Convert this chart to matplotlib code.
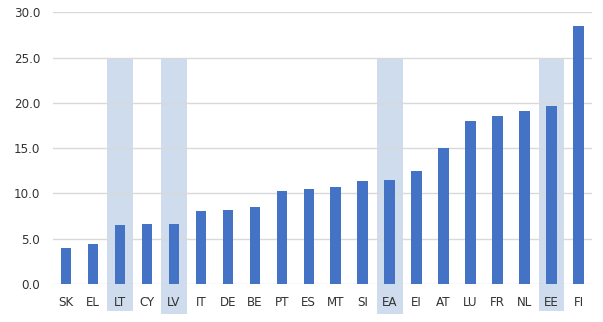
import matplotlib
matplotlib.use("Agg")
import matplotlib.pyplot as plt
import numpy as np

countries = ['SK', 'EL', 'LT', 'CY', 'LV', 'IT', 'DE', 'BE', 'PT', 'ES',
             'MT', 'SI', 'EA', 'EI', 'AT', 'LU', 'FR', 'NL', 'EE', 'FI']
values = [4.0, 4.4, 6.5, 6.6, 6.6, 8.1, 8.2, 8.5, 10.3, 10.5,
          10.7, 11.4, 11.5, 12.5, 15.0, 18.0, 18.6, 19.1, 19.7, 28.5]

# highlighted countries: (label, top, bottom)
highlight = ['LT', 'LV', 'EA', 'EE']
highlight_top = [25.0, 24.8, 24.8, 25.0]
highlight_bottom = [-3.0, -3.3, -3.3, -3.0]

bar_color = '#4472C4'
hl_color = '#CFDCEE'
text_color = '#333333'

fig = plt.figure(figsize=(6.03, 3.22), dpi=100)
ax = fig.add_axes([52.5 / 603, (322 - 284) / 322, (592 - 52.5) / 603, (284 - 12.3) / 322])

x = np.arange(len(countries))

for name, top, bottom in zip(highlight, highlight_top, highlight_bottom):
    i = countries.index(name)
    ax.bar(i, top - bottom, bottom=bottom, width=0.95, color=hl_color,
           zorder=0, clip_on=False)

ax.bar(x, values, width=0.39, color=bar_color, zorder=3)

ax.set_ylim(0, 30)
ax.set_xlim(-0.5, len(countries) - 0.5)
ax.set_yticks(np.arange(0, 31, 5))
ax.set_yticklabels(['%.1f' % v for v in np.arange(0, 31, 5)])
ax.set_xticks(x)
ax.set_xticklabels(countries)

ax.yaxis.grid(True, color='#D9D9D9', linewidth=1)
for gl in ax.get_ygridlines():
    gl.set_zorder(1)

for s in ax.spines.values():
    s.set_visible(False)
ax.tick_params(axis='both', length=0, labelsize=8.6, labelcolor=text_color)
ax.tick_params(axis='y', pad=9)
ax.tick_params(axis='x', pad=9)
ax.patch.set_alpha(0)

fig.savefig('out.png', dpi=100)
